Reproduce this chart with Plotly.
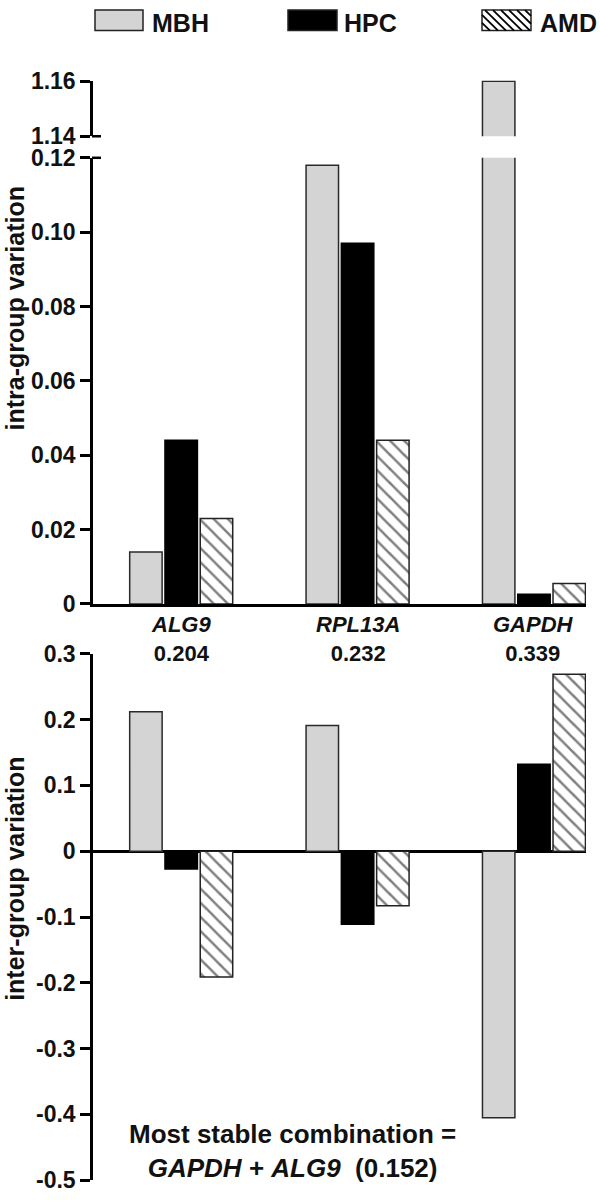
import plotly.graph_objects as go

W, H = 600, 1202

# ---------------- data ----------------
genes = ["ALG9", "RPL13A", "GAPDH"]
stability_values = ["0.204", "0.232", "0.339"]
groups = ["MBH", "HPC", "AMD"]

intra_mbh = [0.014, 0.118, 1.16]
intra_hpc = [0.044, 0.097, 0.0026]
intra_amd = [0.023, 0.044, 0.0055]

inter_mbh = [0.212, 0.191, -0.405]
inter_hpc = [-0.027, -0.111, 0.132]
inter_amd = [-0.191, -0.083, 0.269]

intra_low_ticks = [0, 0.02, 0.04, 0.06, 0.08, 0.10, 0.12]
intra_low_ticktext = ["0", "0.02", "0.04", "0.06", "0.08", "0.10", "0.12"]
intra_high_ticks = [1.14, 1.16]
intra_high_ticktext = ["1.14", "1.16"]
inter_ticks = [-0.5, -0.4, -0.3, -0.2, -0.1, 0, 0.1, 0.2, 0.3]
inter_ticktext = ["-0.5", "-0.4", "-0.3", "-0.2", "-0.1", "0", "0.1", "0.2", "0.3"]

combo_line1 = "Most stable combination ="
combo_line2 = "<i>GAPDH</i> + <i>ALG9</i>&nbsp; (0.152)"
intra_title = "intra-group variation"
inter_title = "inter-group variation"

# ---------------- helpers ----------------
def py(p):
    return 1 - p / H

def px(p):
    return p / W

FONT = "Liberation Sans, Arial, sans-serif"
TXT = "#111111"

styles = {
    "MBH": dict(color="#d4d4d4", line=dict(color="#2a2a2a", width=1.5)),
    "HPC": dict(color="black", line=dict(color="black", width=1.5)),
    "AMD": dict(color="white", line=dict(color="#222222", width=1.5),
                pattern=dict(shape="\\", fgcolor="black", bgcolor="white",
                             size=10, solidity=0.25)),
}

fig = go.Figure()
for g, iv, ev in zip(groups, [intra_mbh, intra_hpc, intra_amd],
                     [inter_mbh, inter_hpc, inter_amd]):
    for xa, ya, vals in [("x", "y", iv), ("x2", "y2", iv), ("x3", "y3", ev)]:
        fig.add_trace(go.Bar(x=genes, y=vals, xaxis=xa, yaxis=ya, name=g,
                             marker=styles[g], showlegend=False))

xdom = [px(93), px(586)]
xrange = [-0.5, 2.295]

yax_common = dict(showline=True, linewidth=2.5, linecolor="black",
                  ticks="outside", ticklen=10, tickwidth=2.5, tickcolor="black",
                  showgrid=False, zeroline=False,
                  tickfont=dict(family=FONT, size=23, color=TXT, weight="bold"))

fig.update_layout(
    width=W, height=H,
    margin=dict(l=0, r=0, t=0, b=0),
    paper_bgcolor="white", plot_bgcolor="white",
    barmode="group", bargap=0.4, bargroupgap=0.08,
    xaxis=dict(domain=xdom, range=xrange, anchor="y", showline=True,
               linewidth=2.5, linecolor="black", showticklabels=False,
               ticks="", showgrid=False, zeroline=False),
    xaxis2=dict(domain=xdom, range=xrange, anchor="y2", visible=False),
    xaxis3=dict(domain=xdom, range=xrange, anchor="y3", showline=False,
                showticklabels=False, ticks="", showgrid=False, zeroline=False),
    yaxis=dict(domain=[py(604), py(148)], range=[0, 0.12], anchor="x",
               tickvals=intra_low_ticks, ticktext=intra_low_ticktext, **yax_common),
    yaxis2=dict(domain=[py(126), py(69)], range=[1.14, 1.1603], anchor="x2",
                tickvals=intra_high_ticks, ticktext=intra_high_ticktext, **yax_common),
    yaxis3=dict(domain=[py(1193), py(655)], range=[-0.5, 0.3], anchor="x3",
                tickvals=inter_ticks, ticktext=inter_ticktext,
                **{**yax_common, "zeroline": True}, zerolinecolor="black",
                zerolinewidth=2.5),
)

annotations = []
shapes = []

# category labels with stability values (two-line labels)
for g, s in zip(genes, stability_values):
    annotations.append(dict(x=g, xref="x", y=py(640), yref="paper",
                            text=f"<i>{g}</i><br>{s}", showarrow=False,
                            xanchor="center", yanchor="middle", align="center",
                            font=dict(family=FONT, size=22, color=TXT, weight="bold")))

# axis titles
annotations.append(dict(x=px(15), y=py(302), xref="paper", yref="paper",
                        text=intra_title, textangle=-90, showarrow=False,
                        xanchor="center", yanchor="middle",
                        font=dict(family=FONT, size=25, color=TXT, weight="bold")))
annotations.append(dict(x=px(15), y=py(885), xref="paper", yref="paper",
                        text=inter_title, textangle=-90, showarrow=False,
                        xanchor="center", yanchor="middle",
                        font=dict(family=FONT, size=25, color=TXT, weight="bold")))

# combination note
annotations.append(dict(x=px(292), y=py(1163), xref="paper", yref="paper",
                        text=combo_line1 + "<br>" + combo_line2, showarrow=False,
                        xanchor="center", yanchor="middle", align="center",
                        font=dict(family=FONT, size=26, color=TXT, weight="bold")))

# legend (drawn manually to get the wide swatches)
leg_boxes = {"MBH": (95, 143), "HPC": (288, 337), "AMD": (482, 531)}
leg_text_x = {"MBH": 150, "HPC": 342, "AMD": 538}
by0, by1 = -3, 18
for g in groups:
    x0, x1 = leg_boxes[g]
    fill = {"MBH": "#d4d4d4", "HPC": "black", "AMD": "white"}[g]
    shapes.append(dict(type="rect", xref="paper", yref="paper",
                       x0=px(x0), x1=px(x1), y0=py(by1), y1=py(by0),
                       fillcolor=fill, line=dict(color="#222222", width=1.5)))
    annotations.append(dict(x=px(leg_text_x[g]), y=py(10), xref="paper", yref="paper",
                            text=g, showarrow=False, xanchor="left", yanchor="middle",
                            font=dict(family=FONT, size=25, color=TXT, weight="bold")))

# hatch lines in AMD legend swatch (direction "\")
hx0, hx1 = leg_boxes["AMD"]
step = 8
c = hx0 - by1
while c < hx1 - by0:
    ys = max(by0, hx0 - c)
    ye = min(by1, hx1 - c)
    if ye > ys:
        shapes.append(dict(type="line", xref="paper", yref="paper",
                           x0=px(ys + c), y0=py(ys), x1=px(ye + c), y1=py(ye),
                           line=dict(color="black", width=1.8)))
    c += step

# broken-axis T marks on the right side of the axis
for ypix in (126, 148):
    shapes.append(dict(type="line", xref="paper", yref="paper",
                       x0=px(92), x1=px(101), y0=py(ypix), y1=py(ypix),
                       line=dict(color="black", width=2.5)))

fig.update_layout(annotations=annotations, shapes=shapes)
fig.write_html("out.html",
               config={"displayModeBar": False},
               post_script="document.body.style.margin='0';document.body.style.padding='0';")
